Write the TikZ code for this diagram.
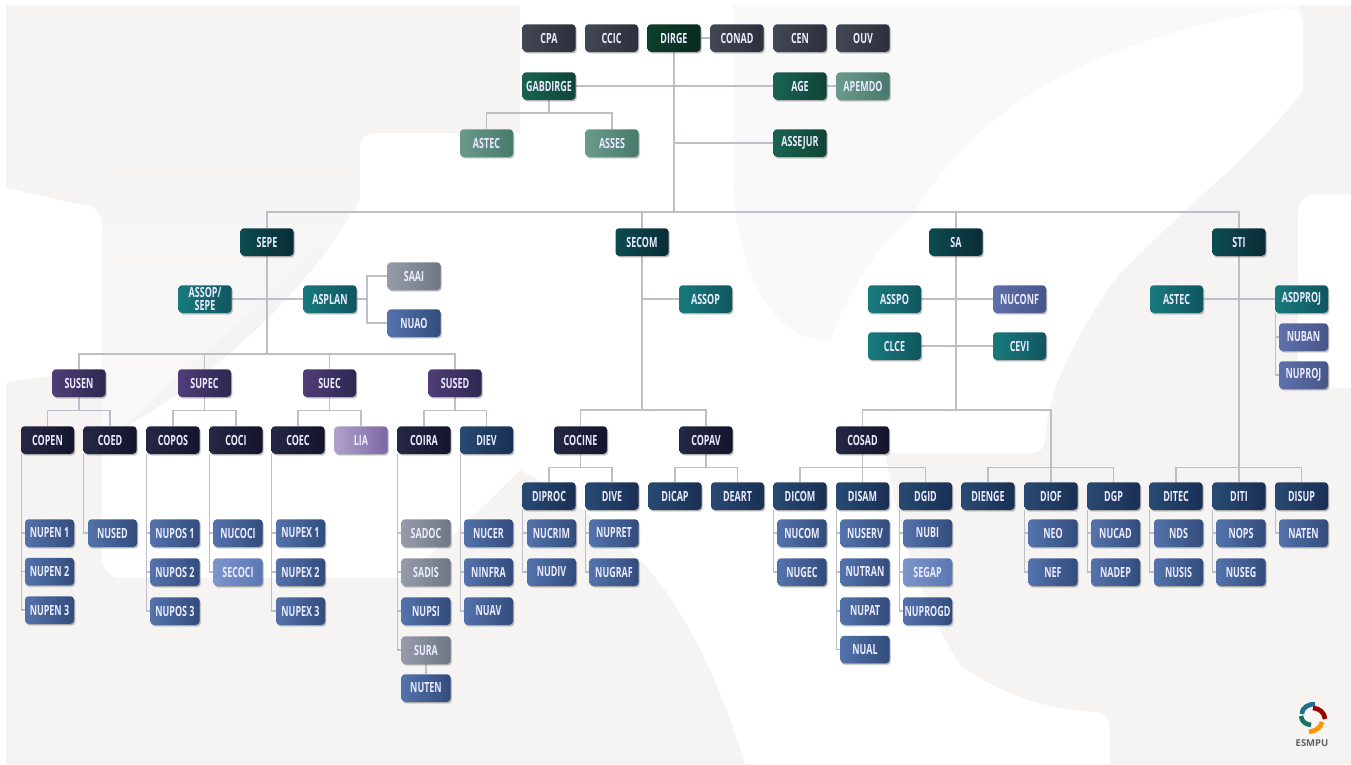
\documentclass[tikz,border=0pt]{standalone}
\usepackage{fontspec}
\setmainfont{Open Sans}[FakeStretch=0.64]
\newfontfamily\logofont{Open Sans}
\usetikzlibrary{shadows}
\pgfdeclarelayer{bgl}\pgfdeclarelayer{conl}
\pgfsetlayers{bgl,conl,main}
\definecolor{pagegrey}{HTML}{F5F4F3}
\definecolor{paleg}{HTML}{FAF9F9}
\definecolor{linec}{HTML}{BCBFC7}
\tikzset{
 unit/.style={rounded corners=3.5pt,minimum width=53pt,minimum height=27.5pt,inner sep=0pt,align=center,
   text=white!92!blue,font=\bfseries\fontsize{14}{12.5}\selectfont,
   drop shadow={shadow xshift=1.5pt,shadow yshift=-2pt,opacity=.16,fill=black!70},
   drop shadow={shadow xshift=.8pt,shadow yshift=-1.2pt,opacity=.32,fill=black!70}},
 small/.style={unit,minimum width=49pt},
 conn/.style={draw=linec,line width=1.3pt},
 boardc/.style={left color=c1a,right color=c1b},
 chief/.style={left color=c2a,right color=c2b},
 gab/.style={left color=c3a,right color=c3b},
 lgreen/.style={left color=c4a,right color=c4b},
 sec/.style={left color=c5a,right color=c5b},
 teal/.style={left color=c6a,right color=c6b},
 purp/.style={left color=c7a,right color=c7b},
 coord/.style={left color=c8a,right color=c8b},
 divi/.style={left color=c9a,right color=c9b},
 nuc/.style={left color=c10a,right color=c10b},
 lnuc/.style={left color=c11a,right color=c11b},
 greyb/.style={left color=c12a,right color=c12b},
 lia/.style={left color=c13a,right color=c13b},
 nucv/.style={left color=c14a,right color=c14b},
}
\definecolor{c1a}{HTML}{434753}\definecolor{c1b}{HTML}{2D303C}
\definecolor{c2a}{HTML}{0B3F2C}\definecolor{c2b}{HTML}{0A2A1E}
\definecolor{c3a}{HTML}{1A6350}\definecolor{c3b}{HTML}{0F4436}
\definecolor{c4a}{HTML}{6A9A8C}\definecolor{c4b}{HTML}{487A6C}
\definecolor{c5a}{HTML}{0C4C50}\definecolor{c5b}{HTML}{0A2C36}
\definecolor{c6a}{HTML}{187A7C}\definecolor{c6b}{HTML}{105660}
\definecolor{c7a}{HTML}{513D78}\definecolor{c7b}{HTML}{2C2850}
\definecolor{c8a}{HTML}{252745}\definecolor{c8b}{HTML}{14142C}
\definecolor{c9a}{HTML}{284A72}\definecolor{c9b}{HTML}{1A2F54}
\definecolor{c10a}{HTML}{5473AC}\definecolor{c10b}{HTML}{324C7C}
\definecolor{c11a}{HTML}{7E94CC}\definecolor{c11b}{HTML}{5A78B2}
\definecolor{c12a}{HTML}{969CA9}\definecolor{c12b}{HTML}{6F7784}
\definecolor{c13a}{HTML}{AFA2CC}\definecolor{c13b}{HTML}{7C67A6}
\definecolor{c14a}{HTML}{5F70AC}\definecolor{c14b}{HTML}{475688}
\begin{document}
\begin{tikzpicture}[x=1pt,y=-1pt]
\useasboundingbox (0,0) rectangle (1351,764);
\begin{pgfonlayer}{bgl}
\fill[white] (0,0) rectangle (1351,764);
\fill[pagegrey] (6,5) rectangle (1351,764);
% paler lobes
\fill[paleg] (733,5) -- (1300,5) -- (1300,12) -- (830,345) -- (733,345) -- cycle;
\shade[top color=pagegrey,bottom color=paleg] (102,133) -- (376,133) -- (360,200) -- (347,225) -- (102,445) -- cycle;
\fill[white] (520,5) -- (733,5) -- (733,170) .. controls (733,280) and (780,345) .. (830,340)
  .. controls (850,290) and (880,240) .. (910,220) .. controls (950,150) and (1030,50) .. (1280,9)
  .. controls (1295,7) and (1303,12) .. (1303,25) -- (1303,90) .. controls (1260,150) and (1180,210) .. (1117,277)
  .. controls (1085,320) and (1055,375) .. (1047,420) -- (1045,440) .. controls (1044,450) and (1038,453) .. (1030,453)
  -- (885,453) .. controls (900,540) and (925,610) .. (960,665) .. controls (1000,695) and (1050,710) .. (1095,712)
  .. controls (1105,713) and (1110,720) .. (1110,730) -- (1110,764) -- (745,764) .. controls (720,680) and (680,600) .. (640,560)
  .. controls (600,520) and (560,490) .. (520,470) .. controls (480,510) and (440,550) .. (400,578)
  -- (122,578) .. controls (110,578) and (102,570) .. (102,558) -- (102,440) .. controls (200,390) and (300,300) .. (347,220)
  -- (360,200) -- (360,148) .. controls (360,138) and (366,133) .. (376,133) -- (520,133) -- cycle;
\fill[white] (6,188) .. controls (40,195) and (70,203) .. (85,205) .. controls (96,207) and (102,213) .. (102,225)
  -- (102,375) .. controls (70,372) and (30,378) .. (6,383) -- cycle;
\fill[white] (1351,195) -- (1315,195) .. controls (1304,195) and (1298,201) .. (1298,212) -- (1298,388) -- (1351,388) -- cycle;
\end{pgfonlayer}
%top
\node[unit,boardc] (cpa) at (549,38) {CPA};
\node[unit,boardc] (ccic) at (611.5,38) {CCIC};
\node[unit,chief] (dirge) at (674,38) {DIRGE};
\node[unit,boardc] (conad) at (737,38) {CONAD};
\node[unit,boardc] (cen) at (800,38) {CEN};
\node[unit,boardc] (ouv) at (863,38) {OUV};
\node[unit,gab] (gabdirge) at (549,86) {GABDIRGE};
\node[unit,gab] (age) at (800,86) {AGE};
\node[unit,lgreen] (apemdo) at (863,86) {APEMDO};
\node[unit,lgreen] (astecd) at (486.5,143) {ASTEC};
\node[unit,lgreen] (asses) at (612,143) {ASSES};
\node[unit,gab] (assejur) at (800,143) {ASSEJUR};
%secretariats
\node[unit,sec] (sepe) at (267,242) {SEPE};
\node[unit,sec] (secom) at (642,242) {SECOM};
\node[unit,sec] (sa) at (956,242) {SA};
\node[unit,sec] (sti) at (1239,242) {STI};
%SEPE
\node[unit,teal] (assopsepe) at (205,299) {ASSOP/\\SEPE};
\node[unit,teal] (asplan) at (330,299) {ASPLAN};
\node[unit,greyb] (saai) at (414,276) {SAAI};
\node[unit,nuc] (nuao) at (414,323) {NUAO};
\node[unit,purp] (susen) at (79,383) {SUSEN};
\node[unit,purp] (supec) at (204.5,383) {SUPEC};
\node[unit,purp] (suec) at (329.5,383) {SUEC};
\node[unit,purp] (sused) at (455,383) {SUSED};
\node[unit,coord] (copen) at (47.5,440) {COPEN};
\node[unit,coord] (coed) at (110,440) {COED};
\node[unit,coord] (copos) at (173,440) {COPOS};
\node[unit,coord] (coci) at (236,440) {COCI};
\node[unit,coord] (coec) at (298,440) {COEC};
\node[unit,lia] (lia) at (361,440) {LIA};
\node[unit,coord] (coira) at (424,440) {COIRA};
\node[unit,divi] (diev) at (486.5,440) {DIEV};
\node[small,nuc] (nupena) at (49.5,533) {NUPEN 1};
\node[small,nuc] (nupenb) at (49.5,571.5) {NUPEN 2};
\node[small,nuc] (nupenc) at (49.5,610) {NUPEN 3};
\node[small,nuc] (nused) at (112.5,533) {NUSED};
\node[small,nuc] (nuposa) at (175,533) {NUPOS 1};
\node[small,nuc] (nuposb) at (175,572) {NUPOS 2};
\node[small,nuc] (nuposc) at (175,611) {NUPOS 3};
\node[small,nuc] (nucoci) at (238,533) {NUCOCI};
\node[small,lnuc] (secoci) at (238,572) {SECOCI};
\node[small,nuc] (nupexa) at (300.5,533) {NUPEX 1};
\node[small,nuc] (nupexb) at (300.5,572) {NUPEX 2};
\node[small,nuc] (nupexc) at (300.5,611) {NUPEX 3};
\node[small,greyb] (sadoc) at (426,533) {SADOC};
\node[small,greyb] (sadis) at (426,572) {SADIS};
\node[small,nuc] (nupsi) at (426,611) {NUPSI};
\node[small,greyb] (sura) at (426,650) {SURA};
\node[small,nuc] (nuten) at (426,688) {NUTEN};
\node[small,nuc] (nucer) at (488.5,533) {NUCER};
\node[small,nuc] (ninfra) at (488.5,572) {NINFRA};
\node[small,nuc] (nuav) at (488.5,611) {NUAV};
%SECOM
\node[unit,teal] (assop) at (705.5,299) {ASSOP};
\node[unit,coord] (cocine) at (580.5,440) {COCINE};
\node[unit,coord] (copav) at (706,440) {COPAV};
\node[unit,divi] (diproc) at (549,496) {DIPROC};
\node[unit,divi] (dive) at (612,496) {DIVE};
\node[unit,divi] (dicap) at (675,496) {DICAP};
\node[unit,divi] (deart) at (737.5,496) {DEART};
\node[small,nuc] (nucrim) at (551.5,533) {NUCRIM};
\node[small,nuc] (nudiv) at (551.5,572) {NUDIV};
\node[small,nuc] (nupret) at (614,533) {NUPRET};
\node[small,nuc] (nugraf) at (614,572) {NUGRAF};
%SA
\node[unit,teal] (asspo) at (894.5,299) {ASSPO};
\node[unit,nucv] (nuconf) at (1019.5,299) {NUCONF};
\node[unit,teal] (clce) at (894.5,346) {CLCE};
\node[unit,teal] (cevi) at (1019.5,346) {CEVI};
\node[unit,coord] (cosad) at (862.5,440) {COSAD};
\node[unit,divi] (dicom) at (800,496) {DICOM};
\node[unit,divi] (disam) at (862.5,496) {DISAM};
\node[unit,divi] (dgid) at (925.5,496) {DGID};
\node[unit,divi] (dienge) at (988,496) {DIENGE};
\node[unit,divi] (diof) at (1051,496) {DIOF};
\node[unit,divi] (dgp) at (1113.5,496) {DGP};
\node[small,nuc] (nucom) at (802,533) {NUCOM};
\node[small,nuc] (nugec) at (802,572) {NUGEC};
\node[small,nuc] (nuserv) at (865,533) {NUSERV};
\node[small,nuc] (nutran) at (865,572) {NUTRAN};
\node[small,nuc] (nupat) at (865,611) {NUPAT};
\node[small,nuc] (nual) at (865,649.5) {NUAL};
\node[small,nuc] (nubi) at (927.5,533) {NUBI};
\node[small,lnuc] (segap) at (927.5,572) {SEGAP};
\node[small,nuc] (nuprogd) at (927.5,611) {NUPROGD};
\node[small,nuc] (neo) at (1053,533) {NEO};
\node[small,nuc] (nef) at (1053,572) {NEF};
\node[small,nuc] (nucad) at (1115.5,533) {NUCAD};
\node[small,nuc] (nadep) at (1115.5,572) {NADEP};
%STI
\node[unit,teal] (asteci) at (1176.5,299) {ASTEC};
\node[unit,teal] (asdproj) at (1301.5,299) {ASDPROJ};
\node[small,nucv] (nuban) at (1303.5,337) {NUBAN};
\node[small,nucv] (nuproj) at (1303.5,375) {NUPROJ};
\node[unit,divi] (ditec) at (1176,496) {DITEC};
\node[unit,divi] (diti) at (1239,496) {DITI};
\node[unit,divi] (disup) at (1301.5,496) {DISUP};
\node[small,nuc] (nds) at (1178.5,533) {NDS};
\node[small,nuc] (nusis) at (1178.5,572) {NUSIS};
\node[small,nuc] (nops) at (1241,533) {NOPS};
\node[small,nuc] (nuseg) at (1241,572) {NUSEG};
\node[small,nuc] (naten) at (1303.5,533) {NATEN};
%logo
\node[inner sep=0pt,text=black!62,font=\logofont\bfseries\fontsize{9.5}{10}\selectfont] (logo) at (1312,743) {ESMPU};
\draw[line width=4.6pt,draw=c9a!80!cyan] (1302,714) .. controls (1302,707) and (1309,704) .. (1315,704);
\draw[line width=4.6pt,draw=red!60!black] (1313,708) .. controls (1319,708) and (1325,713) .. (1325,719);
\draw[line width=4.6pt,draw=c3a!90!cyan] (1301,716) .. controls (1302,722) and (1305,724) .. (1311,725);
\draw[line width=4.6pt,draw=orange!85!yellow] (1322,722) .. controls (1321,728) and (1315,731) .. (1309,732);
%connectors
\begin{pgfonlayer}{conl}
\coordinate (bustop) at (674,212);
\coordinate (busgab) at (549,113);
\coordinate (bussepe) at (267,354);
\coordinate (busasp) at (367,299);
\coordinate (bussec) at (642,410);
\coordinate (bussa) at (956,410);
\coordinate (bussub) at (1051,467.5);
\coordinate (busz) at (1239,467.5);
\draw[conn] (conad.west) -- (dirge.east);
\draw[conn] (dirge.south) -- (bustop);
\draw[conn] (gabdirge.east) -- (age.west);
\draw[conn] (age.east) -- (apemdo.west);
\draw[conn] (assejur.west) -- (dirge.south |- assejur.west);
\draw[conn] (gabdirge.south) -- (busgab);
\draw[conn] (astecd.north) |- (busgab) -| (asses.north);
\foreach \c in {sepe,secom,sa,sti} \draw[conn] (\c.north) |- (bustop);
\draw[conn] (sepe.south) -- (bussepe);
\draw[conn] (assopsepe.east) -- (asplan.west);
\draw[conn] (asplan.east) -- (busasp);
\draw[conn] (saai.west) -| (busasp);
\draw[conn] (nuao.west) -| (busasp);
\foreach \c in {susen,supec,suec,sused} \draw[conn] (\c.north) |- (bussepe);
% two-child coordination forks
\foreach \p/\a/\b in {susen/copen/coed,supec/copos/coci,suec/coec/lia,sused/coira/diev,cocine/diproc/dive,copav/dicap/deart}{
  \draw[conn] (\p.south) -- ++(0,13.5) coordinate (f);
  \draw[conn] (\a.north) |- (f) -| (\b.north);
}
\draw[conn] (cosad.south) -- ++(0,13.5) coordinate (fc);
\draw[conn] (dicom.north) |- (fc) -| (dgid.north);
\draw[conn] (disam.north) -- (cosad.south);
% vertical lists
\foreach \p/\l in {copen/{nupena,nupenb,nupenc},coed/{nused},copos/{nuposa,nuposb,nuposc},coci/{nucoci,secoci},coec/{nupexa,nupexb,nupexc},coira/{sadoc,sadis,nupsi,sura},diev/{nucer,ninfra,nuav},diproc/{nucrim,nudiv},dive/{nupret,nugraf},dicom/{nucom,nugec},disam/{nuserv,nutran,nupat,nual},dgid/{nubi,segap,nuprogd},diof/{neo,nef},dgp/{nucad,nadep},ditec/{nds,nusis},diti/{nops,nuseg},disup/{naten},asdproj/{nuban,nuproj}}{
  \foreach \k in \l { \draw[conn] ([xshift=0.5pt]\p.south west) |- (\k.west); }
}
\draw[conn] (sura.south) -- (nuten.north);
% SECOM
\draw[conn] (secom.south) -- (bussec);
\draw[conn] (assop.west) -- (secom.south |- assop.west);
\draw[conn] (cocine.north) |- (bussec) -| (copav.north);
% SA
\draw[conn] (sa.south) -- (bussa);
\draw[conn] (asspo.east) -- (nuconf.west);
\draw[conn] (clce.east) -- (cevi.west);
\draw[conn] (cosad.north) |- (bussa) -| (bussub);
\draw[conn] (dienge.north) |- (bussub) -| (dgp.north);
\draw[conn] (diof.north) -- (bussub);
% STI
\draw[conn] (sti.south) -- (busz);
\draw[conn] (asteci.east) -- (asdproj.west);
\draw[conn] (ditec.north) |- (busz) -| (disup.north);
\draw[conn] (diti.north) -- (busz);
\end{pgfonlayer}
\end{tikzpicture}
\end{document}
